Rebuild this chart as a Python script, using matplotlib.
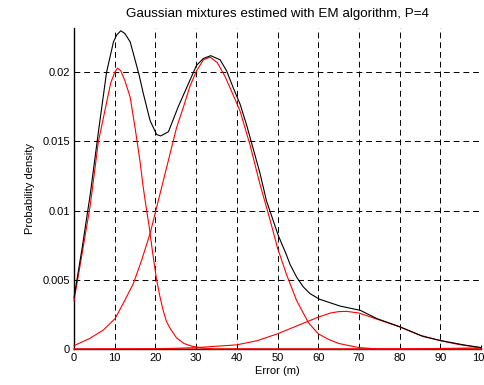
import matplotlib
matplotlib.use("Agg")
import matplotlib.pyplot as plt

# mixture components, (error in m, density)
comp_1_x = [0, 2, 4, 6, 8, 9, 10, 10.7, 11.5, 12.5, 13.8, 15, 16.2, 17, 17.7, 18.5,
            19.3, 20.3, 21.1, 21.9, 22.7, 23.6, 25.2, 27, 29, 31, 34, 100]
comp_1_y = [0.0035, 0.0069, 0.0104, 0.0150, 0.0178, 0.0192, 0.0200, 0.0203, 0.0201,
            0.0194, 0.0182, 0.0160, 0.0136, 0.0117, 0.0103, 0.0088, 0.0070, 0.0050,
            0.0038, 0.0028, 0.0020, 0.0015, 0.0008, 0.0004, 0.0002, 0.0001, 0.0, 0.0]

comp_2_x = [0, 3.9, 7.2, 10.1, 12.1, 14.6, 16.6, 18.7, 20.1, 22.4, 25.2, 26.9, 28.5,
            30.1, 31.8, 33.4, 35.2, 37.1, 38.9, 40.8, 43.2, 45.7, 48.2, 50, 52.2,
            54.7, 57.6, 60, 62.5, 65, 70, 75, 100]
comp_2_y = [0.00024, 0.00077, 0.00137, 0.0022, 0.0033, 0.00474, 0.0064, 0.00835,
            0.0100, 0.0127, 0.0160, 0.0175, 0.0190, 0.0201, 0.0209, 0.0211, 0.0207,
            0.0197, 0.0185, 0.0172, 0.0148, 0.0119, 0.0093, 0.0073, 0.0054, 0.0035,
            0.0019, 0.0011, 0.0007, 0.0004, 0.0001, 0.0, 0.0]

comp_3_x = [0, 20, 25, 30, 35, 40, 45, 50, 55, 60, 63, 65, 67, 70, 75, 80, 85, 90,
            95, 100]
comp_3_y = [0.0, 0.00002, 0.00005, 0.0001, 0.0002, 0.0003, 0.0006, 0.0011, 0.0017,
            0.0023, 0.0026, 0.0027, 0.00272, 0.0026, 0.0021, 0.0016, 0.0010, 0.0006,
            0.0003, 0.0001]

comp_4_x = [0, 80, 85, 90, 95, 100]
comp_4_y = [0.0, 0.0, 0.00002, 0.00004, 0.00006, 0.00008]

# full mixture density (black curve)
mix_x = [0, 2, 4, 6, 8, 9.7, 10.5, 11.5, 12.5, 13.8, 15, 16, 17, 18.7, 20.3, 21.3,
         23.2, 25.6, 27.7, 30.1, 31.8, 33.6, 35.9, 37.5, 39.1, 40.8, 42.4, 44.1,
         45.7, 47.3, 50.2, 52.2, 53.1, 54.7, 56.3, 58, 60.3, 65.4, 70.3, 74.4,
         80.1, 85.8, 90.3, 95.7, 100]
mix_y = [0.0037, 0.0073, 0.0112, 0.0157, 0.0200, 0.0222, 0.0227, 0.0230, 0.0228,
         0.0222, 0.0209, 0.0198, 0.0185, 0.0165, 0.0155, 0.0154, 0.0157, 0.0175,
         0.0189, 0.0205, 0.0210, 0.0212, 0.0209, 0.0201, 0.0189, 0.0177, 0.0162,
         0.0144, 0.0127, 0.0107, 0.0082, 0.0068, 0.0061, 0.0052, 0.0045, 0.0040,
         0.0036, 0.0031, 0.0028, 0.0022, 0.0016, 0.0009, 0.0006, 0.0003, 0.0001]

components = [(comp_1_x, comp_1_y), (comp_2_x, comp_2_y),
              (comp_3_x, comp_3_y), (comp_4_x, comp_4_y)]

x_ticks = list(range(0, 101, 10))
y_ticks = [0, 0.005, 0.01, 0.015, 0.02]
y_tick_labels = ['0', '0.005', '0.01', '0.015', '0.02']

plt.rcParams['font.family'] = ['Liberation Sans', 'DejaVu Sans']
plt.rcParams['font.size'] = 8

fig = plt.figure(figsize=(4.85, 3.85), dpi=100)
ax = fig.add_axes([74 / 485, 36 / 385, 407 / 485, 321 / 385])

for cx, cy in components:
    ax.plot(cx, cy, color='#ff0000', linewidth=0.8, clip_on=False, zorder=3)
ax.plot(mix_x, mix_y, color='black', linewidth=0.8, clip_on=False, zorder=4)

ax.set_xlim(0, 100)
ax.set_ylim(0, 0.0232)
ax.set_xticks(x_ticks)
ax.set_yticks(y_ticks)
ax.set_yticklabels(y_tick_labels)
ax.grid(True, color='black', linestyle=(0, (6, 4)), linewidth=0.7)
ax.set_axisbelow(True)
ax.tick_params(direction='in', length=3, width=0.7, pad=3)

ax.spines['top'].set_visible(False)
ax.spines['right'].set_visible(False)
ax.spines['left'].set_linewidth(1.0)
ax.spines['bottom'].set_linewidth(1.0)

ax.set_xlabel('Error (m)', labelpad=2)
ax.set_ylabel('Probability density', labelpad=5)
ax.set_title('Gaussian mixtures estimed with EM algorithm, P=4', pad=8)

fig.savefig('out.png', dpi=100)
